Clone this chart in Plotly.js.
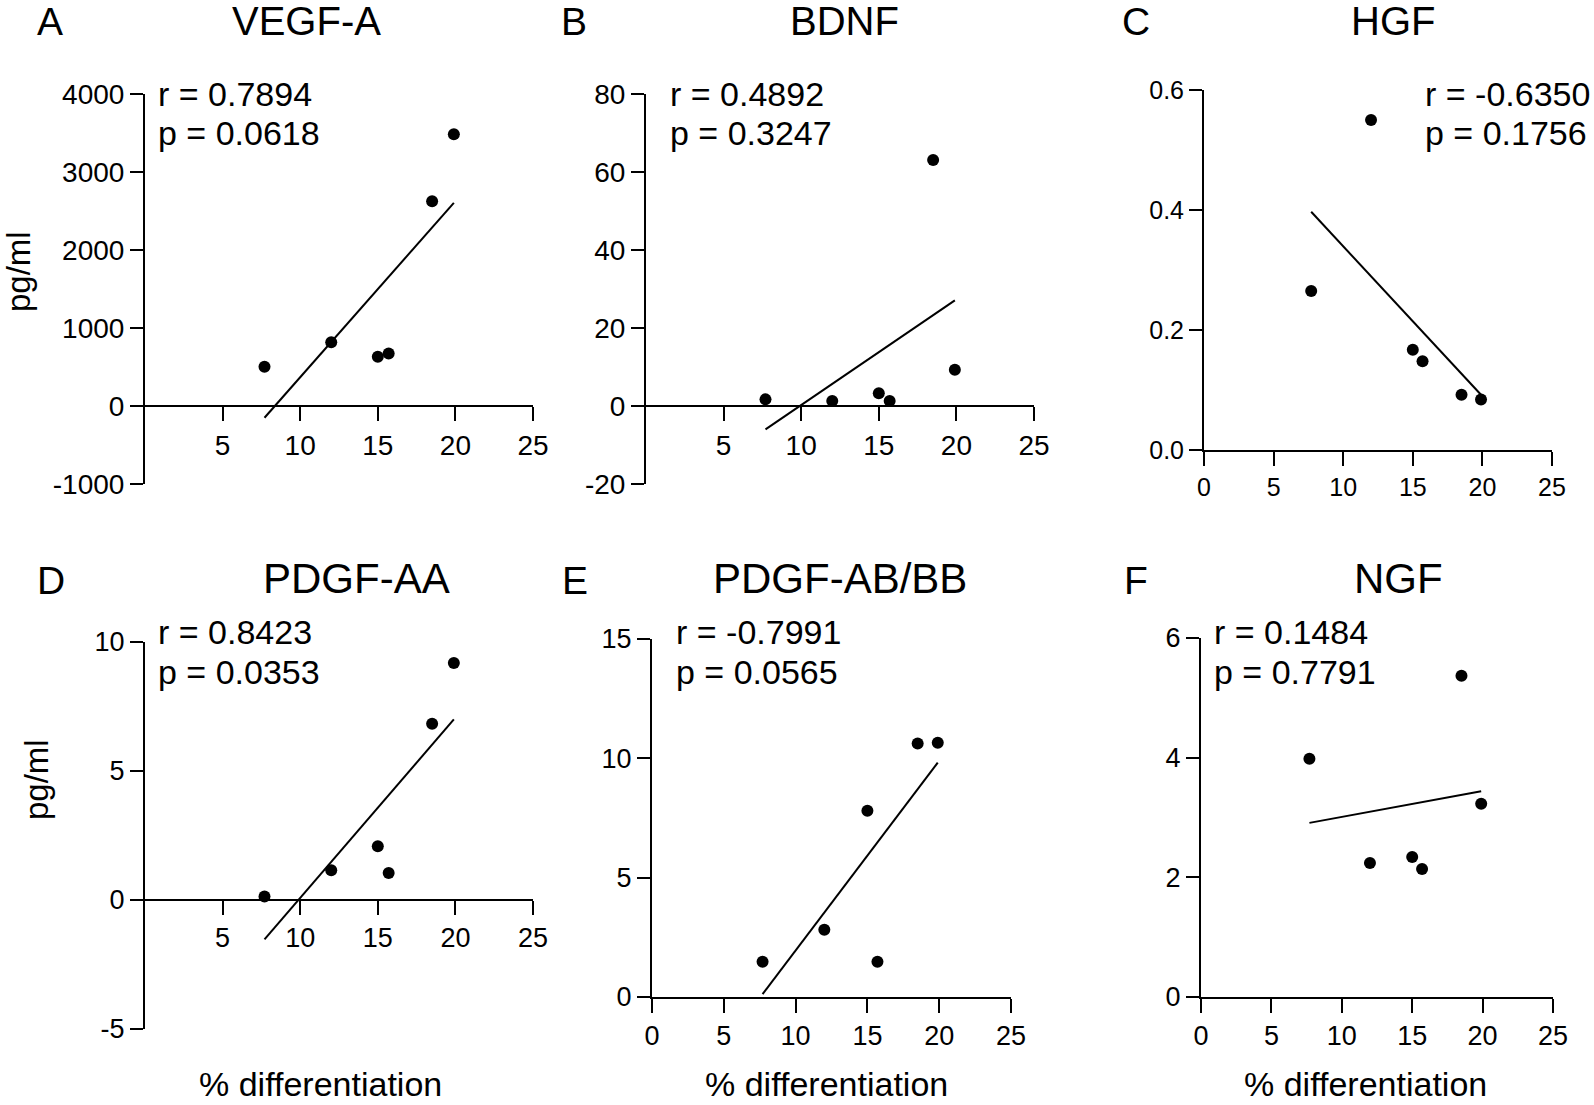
<!DOCTYPE html>
<html>
<head>
<meta charset="utf-8">
<script src="https://cdn.plot.ly/plotly-3.0.1.min.js"></script>
<style>html,body{margin:0;padding:0;background:#fff;}#chart{width:1594px;height:1105px;}</style>
</head>
<body>
<div id="chart"></div>
<script>
// ---------------- data ----------------
const pctDifferentiation = [7.7, 12.0, 15.0, 15.7, 18.5, 19.9];

const vegfA    = [503, 816, 631, 674, 2625, 3483];
const bdnf     = [1.7, 1.3, 3.25, 1.3, 63.1, 9.3];
const hgf      = [0.265, 0.55, 0.167, 0.148, 0.092, 0.084];
const pdgfAA   = [0.14, 1.15, 2.08, 1.05, 6.83, 9.19];
const pdgfABBB = [1.48, 2.82, 7.8, 1.48, 10.62, 10.65];
const ngf      = [3.98, 2.24, 2.34, 2.14, 5.37, 3.23];

// regression line end points
const fitX        = [7.7, 19.9];
const vegfAFit    = [-151, 2605];
const bdnfFit     = [-6.0, 27.1];
const hgfFit      = [0.397, 0.092];
const pdgfAAFit   = [-1.53, 7.0];
const pdgfABBBFit = [0.12, 9.82];
const ngfFit      = [2.91, 3.44];

const panelLetters = ['A', 'B', 'C', 'D', 'E', 'F'];
const panelTitles  = ['VEGF-A', 'BDNF', 'HGF', 'PDGF-AA', 'PDGF-AB/BB', 'NGF'];
const rLabels = ['r = 0.7894', 'r = 0.4892', 'r = -0.6350', 'r = 0.8423', 'r = -0.7991', 'r = 0.1484'];
const pLabels = ['p = 0.0618', 'p = 0.3247', 'p = 0.1756', 'p = 0.0353', 'p = 0.0565', 'p = 0.7791'];

const yTickVals = [
  [-1000, 0, 1000, 2000, 3000, 4000],
  [-20, 0, 20, 40, 60, 80],
  [0, 0.2, 0.4, 0.6],
  [-5, 0, 5, 10],
  [0, 5, 10, 15],
  [0, 2, 4, 6]
];
const yTickText = [
  ['-1000', '0', '1000', '2000', '3000', '4000'],
  ['-20', '0', '20', '40', '60', '80'],
  ['0.0', '0.2', '0.4', '0.6'],
  ['-5', '0', '5', '10'],
  ['0', '5', '10', '15'],
  ['0', '2', '4', '6']
];
const xTickValsCrossing = [5, 10, 15, 20, 25];
const xTickValsFull = [0, 5, 10, 15, 20, 25];
const xAxisTitle = '% differentiation';
const yAxisTitle = 'pg/ml';

// ---------------- layout geometry (pixels) ----------------
const W = 1594, H = 1105;
const px = v => v / W;
const py = v => 1 - v / H;

const seriesY   = [vegfA, bdnf, hgf, pdgfAA, pdgfABBB, ngf];
const seriesFit = [vegfAFit, bdnfFit, hgfFit, pdgfAAFit, pdgfABBBFit, ngfFit];

const panels = [
  {x0: 145,  x1: 533,  yTop: 94,  yBot: 484,  crossZero: true,  tickSize: 28, titleSize: 40, letter: [50, 21],   title: [306, 21],  r: [156, 94],  p: [156, 133]},
  {x0: 646,  x1: 1034, yTop: 94,  yBot: 484,  crossZero: true,  tickSize: 28, titleSize: 40, letter: [574, 21],  title: [844, 21],  r: [668, 94],  p: [668, 133]},
  {x0: 1204, x1: 1552, yTop: 90,  yBot: 450,  crossZero: false, tickSize: 25, titleSize: 40, letter: [1136, 21], title: [1393, 21], r: [1423, 94], p: [1423, 133]},
  {x0: 145,  x1: 533,  yTop: 642, yBot: 1029, crossZero: true,  tickSize: 27, titleSize: 42, letter: [51, 580],  title: [356, 578], r: [156, 632], p: [156, 672]},
  {x0: 652,  x1: 1011, yTop: 639, yBot: 997,  crossZero: false, tickSize: 27, titleSize: 42, letter: [575, 580], title: [840, 578], r: [674, 632], p: [674, 672]},
  {x0: 1201, x1: 1553, yTop: 638, yBot: 997,  crossZero: false, tickSize: 27, titleSize: 42, letter: [1136, 580],title: [1398, 578],r: [1212, 632],p: [1212, 672]}
];

const FONT = '"Liberation Sans", Arial, Helvetica, sans-serif';
const BLACK = '#000000';

const traces = [];
const layout = {
  width: W, height: H,
  margin: {l: 0, r: 0, t: 0, b: 0, pad: 0},
  paper_bgcolor: '#ffffff',
  plot_bgcolor: 'rgba(0,0,0,0)',
  showlegend: false,
  font: {family: FONT, color: BLACK},
  annotations: []
};

panels.forEach((pn, i) => {
  const n = i + 1;
  const xa = 'x' + n, ya = 'y' + n;
  const yVals = yTickVals[i];
  const yMin = yVals[0], yMax = yVals[yVals.length - 1];
  const yDom = [py(pn.yBot), py(pn.yTop)];

  traces.push({
    type: 'scatter', mode: 'markers',
    x: pctDifferentiation, y: seriesY[i],
    xaxis: xa, yaxis: ya,
    marker: {color: BLACK, size: 12},
    cliponaxis: false, hoverinfo: 'skip'
  });
  traces.push({
    type: 'scatter', mode: 'lines',
    x: fitX, y: seriesFit[i],
    xaxis: xa, yaxis: ya,
    line: {color: BLACK, width: 2},
    cliponaxis: false, hoverinfo: 'skip'
  });

  const xKey = 'xaxis' + (n === 1 ? '' : n);
  const yKey = 'yaxis' + (n === 1 ? '' : n);
  const xVals = pn.crossZero ? xTickValsCrossing : xTickValsFull;

  const xaxis = {
    domain: [px(pn.x0), px(pn.x1)],
    range: [0, 25],
    showgrid: false, zeroline: false,
    showline: true, linecolor: BLACK, linewidth: 2,
    ticks: 'outside', ticklen: 14, tickwidth: 2, tickcolor: BLACK,
    tickvals: xVals, ticktext: xVals.map(String),
    tickfont: {family: FONT, size: pn.tickSize, color: BLACK},
    fixedrange: true
  };
  if (pn.crossZero) {
    xaxis.anchor = 'free';
    xaxis.position = yDom[0] + (0 - yMin) / (yMax - yMin) * (yDom[1] - yDom[0]);
  } else {
    xaxis.anchor = ya;
  }
  layout[xKey] = xaxis;

  layout[yKey] = {
    domain: yDom,
    range: [yMin, yMax],
    anchor: xa,
    showgrid: false, zeroline: false,
    showline: true, linecolor: BLACK, linewidth: 2,
    ticks: 'outside', ticklen: 13, tickwidth: 2, tickcolor: BLACK,
    tickvals: yVals, ticktext: yTickText[i],
    tickfont: {family: FONT, size: pn.tickSize, color: BLACK},
    fixedrange: true
  };

  layout.annotations.push({
    xref: 'paper', yref: 'paper', x: px(pn.letter[0]), y: py(pn.letter[1]),
    xanchor: 'center', yanchor: 'middle', showarrow: false,
    text: panelLetters[i], font: {family: FONT, size: 39, color: BLACK}
  });
  layout.annotations.push({
    xref: 'paper', yref: 'paper', x: px(pn.title[0]), y: py(pn.title[1]),
    xanchor: 'center', yanchor: 'middle', showarrow: false,
    text: panelTitles[i], font: {family: FONT, size: pn.titleSize, color: BLACK}
  });
  layout.annotations.push({
    xref: 'paper', yref: 'paper', x: px(pn.r[0]), y: py(pn.r[1]),
    xanchor: 'left', yanchor: 'middle', showarrow: false,
    text: rLabels[i], font: {family: FONT, size: 34, color: BLACK}
  });
  layout.annotations.push({
    xref: 'paper', yref: 'paper', x: px(pn.p[0]), y: py(pn.p[1]),
    xanchor: 'left', yanchor: 'middle', showarrow: false,
    text: pLabels[i], font: {family: FONT, size: 34, color: BLACK}
  });
});

// y axis titles (A and D)
layout.annotations.push({
  xref: 'paper', yref: 'paper', x: px(18), y: py(272),
  xanchor: 'center', yanchor: 'middle', showarrow: false, textangle: -90,
  text: yAxisTitle, font: {family: FONT, size: 33, color: BLACK}
});
layout.annotations.push({
  xref: 'paper', yref: 'paper', x: px(36), y: py(780),
  xanchor: 'center', yanchor: 'middle', showarrow: false, textangle: -90,
  text: yAxisTitle, font: {family: FONT, size: 33, color: BLACK}
});
// x axis titles (D, E, F)
[320, 826, 1365].forEach(cx => {
  layout.annotations.push({
    xref: 'paper', yref: 'paper', x: px(cx), y: 0,
    xanchor: 'center', yanchor: 'bottom', showarrow: false,
    text: xAxisTitle, font: {family: FONT, size: 34, color: BLACK}
  });
});

Plotly.newPlot('chart', traces, layout, {staticPlot: true, displayModeBar: false});
</script>
</body>
</html>
